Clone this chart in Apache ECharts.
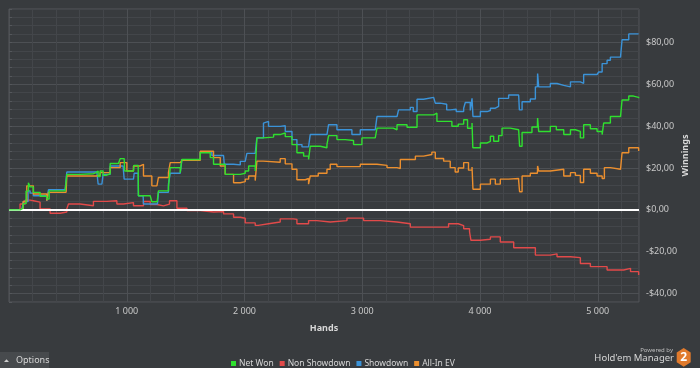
<!DOCTYPE html>
<html><head><meta charset="utf-8">
<script src="https://cdn.jsdelivr.net/npm/echarts@6/dist/echarts.min.js"></script>
<style>html,body{margin:0;padding:0;background:#383b3e;}#c{width:700px;height:368px;}</style>
</head><body><div id="c"></div>
<script>
const seriesNames = ['Net Won', 'Non Showdown', 'Showdown', 'All-In EV'];
const xTicks = [1000, 2000, 3000, 4000, 5000];
const yTicks = [-40, -20, 0, 20, 40, 60, 80];

// [hands, winnings $]
const netWon = [[0,0],[94,0.8],[120,3],[145,9],[165,13],[179,11],[207,8.4],[264,6.5],[321,5.2],[341,9.1],[477,10],[491,17],[604,17.3],[717,17.8],[740,18.6],[757,16],[774,18.6],[799,16.5],[825,17.2],[859,22.2],[929,22.5],[944,24.5],[978,24.5],[982,18.6],[1057,19],[1061,21.3],[1097,21.3],[1099,6.8],[1199,6.8],[1213,3.9],[1258,3.9],[1269,9.1],[1354,10.7],[1369,20.2],[1454,17.8],[1468,24.1],[1624,27.3],[1709,25],[1737,21.8],[1836,17],[1879,17],[1964,17.5],[2006,18.6],[2035,21],[2091,18.6],[2099,18.6],[2105,34.4],[2159,34.8],[2247,36],[2303,36.8],[2346,35],[2403,31.2],[2445,27.3],[2502,25.7],[2544,24.1],[2554,24.1],[2558,30.4],[2643,29.7],[2700,31.2],[2714,35.5],[2785,33.6],[2856,33.2],[2926,31.2],[2997,34.4],[3110,33.6],[3125,39.1],[3263,38.3],[3295,40.7],[3380,39.5],[3465,45.4],[3606,46.2],[3634,42.3],[3717,42.3],[3761,40],[3815,41],[3861,43.1],[3894,39],[3932,41.5],[3939,29.7],[4003,32],[4060,32.8],[4088,35.2],[4116,32.8],[4158,35.5],[4187,39.1],[4257,38.3],[4328,38.3],[4336,30.4],[4357,37],[4441,39.6],[4487,39.6],[4489,43.9],[4498,37.5],[4597,39.9],[4648,38.3],[4711,36],[4768,38.3],[4810,37.5],[4852,34.4],[4880,40.7],[4937,38.8],[4994,37.5],[5037,36],[5050,41.5],[5107,44.6],[5193,44.6],[5206,52.5],[5263,54.4],[5303,53.8],[5347,53.3]];

const nonShowdown = [[0,0],[94,2.8],[137,4.7],[179,4.4],[207,3.7],[264,0.5],[349,-1.6],[434,-1],[491,0.5],[505,2.8],[604,2],[717,4.1],[831,4.4],[916,2.8],[972,3.5],[1057,2],[1142,4],[1199,2.6],[1256,1.9],[1312,2.8],[1363,4.4],[1426,0.8],[1511,-0.3],[1624,-1],[1737,-0.8],[1822,-1.9],[1907,-3.5],[1964,-4],[2006,-6.2],[2091,-7.4],[2116,-6.5],[2218,-5.8],[2303,-4.3],[2414,-4.5],[2445,-6.6],[2544,-5.1],[2615,-5.8],[2728,-5.1],[2870,-3.9],[3011,-5.1],[3153,-5.8],[3295,-6.6],[3408,-8.2],[3578,-8.2],[3733,-6.6],[3815,-7.5],[3861,-9],[3911,-10.5],[3923,-14.5],[4003,-14],[4088,-12.9],[4172,-15.3],[4286,-18.1],[4427,-18.1],[4470,-21.6],[4597,-21],[4654,-22.4],[4768,-22.8],[4852,-25.6],[4937,-27.1],[5079,-28.7],[5164,-28.7],[5220,-27.9],[5278,-29.5],[5347,-31.1]];

const showdown = [[0,0],[109,0],[122,4],[162,9.1],[179,8],[207,6.8],[321,4.4],[335,9.6],[477,9.2],[491,18.1],[746,18.5],[757,12.3],[789,12.3],[799,17],[842,17],[859,21],[969,21.5],[978,14.7],[1057,14.7],[1063,17.5],[1097,17.5],[1099,6.8],[1139,6.8],[1142,2.8],[1261,2.8],[1269,8.4],[1354,12.3],[1369,17.5],[1454,17.8],[1468,24],[1624,27.6],[1723,26],[1822,26],[1828,21.8],[1907,21.5],[1964,23.2],[2006,22.6],[2020,27],[2091,26.5],[2105,34.4],[2161,41.5],[2176,42.3],[2204,39.9],[2303,40.2],[2346,37.5],[2403,33.6],[2445,31.2],[2488,30.1],[2544,29.7],[2558,36],[2700,36.4],[2714,40.7],[2785,38.3],[2856,38.3],[2912,36],[2983,38.3],[3110,39.1],[3125,44.6],[3295,45],[3308,47.8],[3408,49],[3433,47],[3465,52.9],[3521,53.8],[3606,54.1],[3620,51],[3662,50.5],[3717,47.8],[3747,48.1],[3798,47],[3861,48.6],[3875,51.3],[3917,47.5],[3932,53.3],[3940,44.6],[4003,47],[4060,47.5],[4088,48.6],[4130,49.5],[4158,53.3],[4243,54.9],[4328,55.7],[4334,47.8],[4357,51.7],[4427,53],[4470,58.8],[4487,59],[4489,65.2],[4498,58.8],[4597,60.4],[4654,59.5],[4711,58.8],[4768,61.2],[4852,60.5],[4880,64.7],[4994,64.5],[5008,65.9],[5037,69.9],[5079,71.5],[5107,73],[5193,73],[5206,81.3],[5263,84.1],[5347,83.8]];

const allInEV = [[0,0],[94,0.5],[120,4],[151,11.5],[207,7.6],[321,4.4],[335,8.4],[485,9],[491,16.2],[740,16.5],[774,17.8],[859,20.2],[944,22.6],[978,22.6],[1001,18.6],[1057,21],[1114,21.8],[1142,16.2],[1213,11.5],[1256,10.7],[1269,15.5],[1354,17.8],[1369,22.6],[1454,22.2],[1468,23.7],[1624,28],[1737,25],[1794,21],[1836,17],[1907,13],[1964,13.5],[2006,14.7],[2035,16.2],[2091,14],[2099,14],[2105,23.3],[2159,22.8],[2303,24.5],[2346,22],[2403,19.4],[2445,14.4],[2516,15],[2544,12.3],[2558,16.2],[2626,17.5],[2700,19.4],[2728,21.8],[2785,20.7],[2856,20.7],[2983,21.8],[3125,21.3],[3210,20.2],[3295,19.8],[3323,24.1],[3408,24.1],[3451,25.7],[3521,26.5],[3591,27.6],[3620,24.6],[3691,23.3],[3747,20.2],[3789,18.1],[3815,20],[3861,22.6],[3902,19],[3932,20.5],[3940,9.9],[4003,12.3],[4088,14.7],[4130,12.3],[4172,14.7],[4243,15],[4328,13.9],[4336,8.7],[4357,16.2],[4427,17.5],[4487,18],[4489,21],[4498,18.6],[4597,19.4],[4711,16.2],[4768,17.8],[4810,16.5],[4852,13.1],[4880,19.4],[4937,17.5],[4994,16.2],[5037,15],[5056,20.2],[5107,19.4],[5193,18.6],[5206,27.3],[5263,29.7],[5347,28.1]];

const colors = {green: '#2fe02f', red: '#e24a4a', blue: '#3b93d8', orange: '#ec8f2e'};
const gridMinor = '#43464a', gridMajor = '#4d5054', borderCol = '#54575b';
const FONT = 'Noto Sans';

function fmtMoney(v) { return (v < 0 ? '-' : '') + '$' + Math.abs(v).toFixed(2).replace('.', ','); }
function fmtHands(v) { return String(v).replace(/\B(?=(\d{3})+(?!\d))/g, ' '); }

const chart = echarts.init(document.getElementById('c'), null, {renderer: 'canvas'});
function mkSeries(name, data, color, z) {
  return {name, type: 'line', data, showSymbol: false, symbol: 'none', z, step: 'end',
    lineStyle: {color, width: 1.4}, itemStyle: {color}, emphasis: {disabled: true}, animation: false};
}
const sGreen = mkSeries(seriesNames[0], netWon, colors.green, 5);
sGreen.markLine = {silent: true, symbol: 'none', label: {show: false}, animation: false,
  lineStyle: {color: '#ffffff', width: 2, type: 'solid'}, emphasis: {disabled: true}, data: [{yAxis: 0}]};

chart.setOption({
  backgroundColor: '#383b3e',
  animation: false,
  grid: {left: 9, right: 61, top: 9, bottom: 66, show: true, borderColor: borderCol, borderWidth: 1,
    backgroundColor: 'transparent', containLabel: false, outerBoundsMode: 'none'},
  xAxis: {type: 'value', min: 0, max: 5350, interval: 200,
    axisLine: {show: false},
    axisTick: {show: true, length: 3, lineStyle: {color: borderCol}},
    axisLabel: {color: '#c8c8c8', fontSize: 9, fontFamily: FONT, margin: 5,
      formatter: v => xTicks.includes(v) ? fmtHands(v) : ''},
    splitLine: {show: true, lineStyle: {color: [gridMajor, gridMinor, gridMinor, gridMinor, gridMinor], width: 1}},
    name: 'Hands', nameLocation: 'middle', nameGap: 22,
    nameTextStyle: {color: '#d8d8d8', fontSize: 9, fontWeight: 'bold', fontFamily: FONT}},
  yAxis: {type: 'value', position: 'right', min: -44, max: 96, interval: 4,
    axisLine: {show: false},
    axisTick: {show: true, length: 3, lineStyle: {color: borderCol}},
    axisLabel: {color: '#c8c8c8', fontSize: 9, fontFamily: FONT, margin: 7,
      formatter: v => yTicks.includes(v) ? fmtMoney(v) : ''},
    splitLine: {show: true, lineStyle: {color: [gridMinor, gridMajor, gridMinor, gridMinor, gridMinor], width: 1}},
    name: 'Winnings', nameLocation: 'middle', nameRotate: 90, nameGap: 42, nameMoveOverlap: false,
    nameTextStyle: {color: '#d8d8d8', fontSize: 9, fontWeight: 'bold', fontFamily: FONT}},
  legend: {data: seriesNames, left: 226, top: 354, icon: 'rect', itemWidth: 5, itemHeight: 5, itemGap: 6,
    selectedMode: false, textStyle: {color: '#d6d6d6', fontSize: 8.5, fontFamily: FONT, padding: [0, 0, 0, -2]}},
  series: [
    sGreen,
    mkSeries(seriesNames[1], nonShowdown, colors.red, 2),
    mkSeries(seriesNames[2], showdown, colors.blue, 3),
    mkSeries(seriesNames[3], allInEV, colors.orange, 4)
  ],
  graphic: [
    {type: 'rect', shape: {x: 0, y: 352, width: 49, height: 16}, style: {fill: '#474a4d'}, silent: true},
    {type: 'polygon', shape: {points: [[4, 362], [6.5, 359.2], [9, 362]]}, style: {fill: '#cfcfcf'}, silent: true},
    {type: 'text', x: 16, y: 360, style: {text: 'Options', fill: '#d6d6d6', font: '9px "Noto Sans"', verticalAlign: 'middle'}, silent: true},
    {type: 'text', x: 673, y: 350, style: {text: 'Powered by', fill: '#bdbdbd', font: '6px "Noto Sans"', align: 'right', verticalAlign: 'middle'}, silent: true},
    {type: 'text', x: 674, y: 358, style: {text: "Hold'em Manager", fill: '#d6d6d6', font: '9.5px "Noto Sans"', align: 'right', verticalAlign: 'middle'}, silent: true},
    {type: 'polygon', shape: {points: [[683.7, 348], [690.7, 352.5], [690.7, 362.2], [683.7, 366.7], [676.7, 362.2], [676.7, 352.5]]}, style: {fill: '#e07a2c'}, silent: true},
    {type: 'text', x: 683.7, y: 357.6, style: {text: '2', fill: '#ffffff', font: 'bold 12px "Noto Sans"', align: 'center', verticalAlign: 'middle'}, silent: true}
  ]
});
</script></body></html>
